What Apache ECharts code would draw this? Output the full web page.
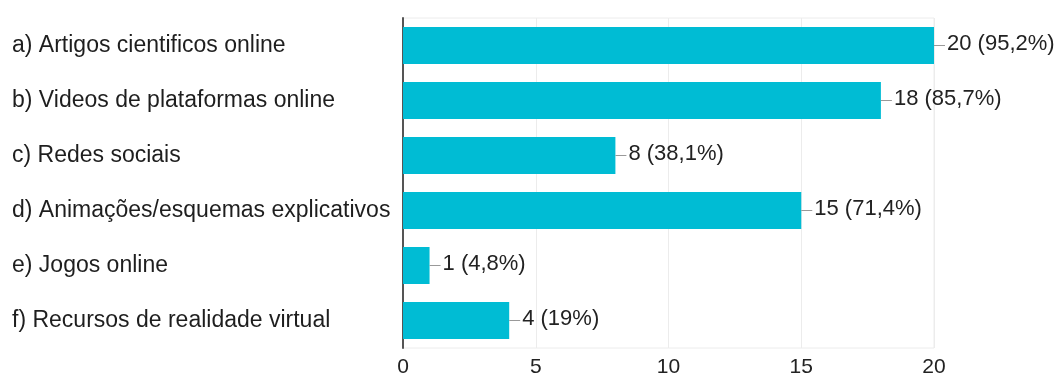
<!DOCTYPE html>
<html>
<head>
<meta charset="utf-8">
<script src="https://cdn.jsdelivr.net/npm/echarts@6/dist/echarts.min.js"></script>
<style>
  html, body { margin: 0; padding: 0; background: #fff; }
  #chart { width: 1055px; height: 378px; }
</style>
</head>
<body>
<div id="chart"></div>
<script>
// Response categories (top to bottom)
const categories = [
  'a) Artigos cientificos online',
  'b) Videos de plataformas online',
  'c) Redes sociais',
  'd) Animações/esquemas explicativos',
  'e) Jogos online',
  'f) Recursos de realidade virtual'
];
// Number of answers per category
const counts = [20, 18, 8, 15, 1, 4];
// Share of respondents, as printed next to each bar
const percents = ['95,2%', '85,7%', '38,1%', '71,4%', '4,8%', '19%'];
// Value axis ticks
const xTicks = [0, 5, 10, 15, 20];

const FONT = '"Liberation Sans", Arial, sans-serif';

const chart = echarts.init(document.getElementById('chart'), null, { renderer: 'canvas' });

chart.setOption({
  animation: false,
  backgroundColor: '#ffffff',
  grid: {
    left: 403, right: 121, top: 18, bottom: 27,
    show: true, borderColor: '#ececec', borderWidth: 1
  },
  xAxis: {
    type: 'value',
    min: xTicks[0],
    max: xTicks[xTicks.length - 1],
    interval: xTicks[1] - xTicks[0],
    axisLine: { show: false },
    axisTick: { show: false },
    splitLine: { lineStyle: { color: '#ececec', width: 1 } },
    axisLabel: { color: '#222', fontSize: 21, fontFamily: FONT, margin: 9 }
  },
  yAxis: {
    type: 'category',
    data: categories,
    inverse: true,
    axisLine: { show: true, lineStyle: { color: '#555', width: 2 } },
    axisTick: { show: false },
    axisLabel: {
      align: 'left',
      margin: 391,
      color: '#1e1e1e',
      fontSize: 23,
      fontFamily: FONT,
      padding: [0, 0, 5, 0]
    }
  },
  series: [{
    type: 'bar',
    data: counts,
    barCategoryGap: '33%',
    itemStyle: { color: '#00bcd4' },
    label: {
      show: true,
      position: 'right',
      distance: 0,
      formatter: (p) => '{l|}{v|' + counts[p.dataIndex] + ' (' + percents[p.dataIndex] + ')}',
      rich: {
        l: { width: 11, height: 1, backgroundColor: '#999' },
        v: { color: '#222', fontSize: 22, fontFamily: FONT, padding: [0, 0, 3, 2] }
      }
    }
  }]
});
</script>
</body>
</html>
